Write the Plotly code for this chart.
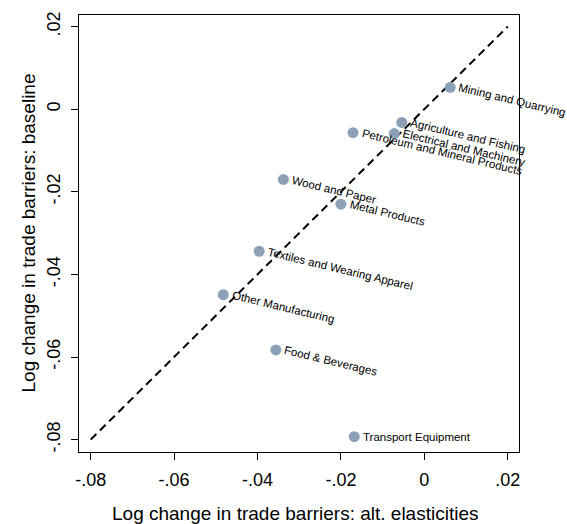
import plotly.graph_objects as go

# Sector-level log changes in trade barriers under two elasticity settings
sectors = [
    "Mining and Quarrying",
    "Agriculture and Fishing",
    "Electrical and Machinery",
    "Petroleum and Mineral Products",
    "Wood and Paper",
    "Metal Products",
    "Textiles and Wearing Apparel",
    "Other Manufacturing",
    "Food & Beverages",
    "Transport Equipment",
]
alt_elasticities = [0.0062, -0.0054, -0.0072, -0.0171, -0.0338, -0.0200, -0.0396, -0.0482, -0.0356, -0.0168]
baseline = [0.0053, -0.0032, -0.0059, -0.0057, -0.0170, -0.0230, -0.0344, -0.0449, -0.0583, -0.0793]
# labels drawn flat instead of slanted
flat_labels = ["Transport Equipment"]

# 45-degree reference line
diag = [-0.08, 0.02]

tick_vals = [-0.08, -0.06, -0.04, -0.02, 0.0, 0.02]
tick_text = ["-.08", "-.06", "-.04", "-.02", "0", ".02"]

FONT = "Liberation Sans, Arial, sans-serif"
MARKER = "rgb(140,160,182)"

fig = go.Figure()
fig.add_trace(go.Scatter(
    x=diag, y=diag, mode="lines",
    line=dict(color="black", width=2, dash="8px,5px"),
    hoverinfo="skip", showlegend=False,
))
fig.add_trace(go.Scatter(
    x=alt_elasticities, y=baseline, mode="markers",
    marker=dict(size=11, color=MARKER, line=dict(width=0)),
    text=sectors, hoverinfo="text", showlegend=False, cliponaxis=False,
))

annotations = []
for name, xv, yv in zip(sectors, alt_elasticities, baseline):
    if name in flat_labels:
        annotations.append(dict(
            x=xv, y=yv, xref="x", yref="y", text=name, showarrow=False,
            xanchor="left", yanchor="middle", xshift=7,
            font=dict(family=FONT, size=11.5, color="black"),
        ))
    else:
        annotations.append(dict(
            x=xv, y=yv, xref="x", yref="y", text=name, showarrow=False,
            textangle=13.5, xanchor="left", yanchor="top", xshift=5, yshift=8,
            font=dict(family=FONT, size=11.5, color="black"),
        ))

# axis titles
annotations.append(dict(
    x=0.49, y=0, xref="paper", yref="paper", yshift=-61,
    text="Log change in trade barriers: alt. elasticities", showarrow=False,
    xanchor="center", yanchor="middle",
    font=dict(family=FONT, size=19, color="black"),
))
annotations.append(dict(
    x=0, y=0.5, xref="paper", yref="paper", xshift=-51,
    text="Log change in trade barriers: baseline", showarrow=False,
    textangle=-90, xanchor="center", yanchor="middle",
    font=dict(family=FONT, size=19, color="black"),
))

axis_common = dict(
    showgrid=False, zeroline=False, showline=True, mirror=True,
    linecolor="black", linewidth=1.3,
    ticks="outside", ticklen=7, tickwidth=1.3, tickcolor="black",
    tickvals=tick_vals, ticktext=tick_text,
    tickfont=dict(family=FONT, size=18, color="black"),
)

fig.update_layout(
    width=567, height=524,
    margin=dict(l=79, r=48, t=11, b=72),
    paper_bgcolor="white", plot_bgcolor="white",
    xaxis=dict(range=[-0.0828, 0.0227], ticklabelstandoff=4, **axis_common),
    yaxis=dict(range=[-0.0830, 0.0228], tickangle=-90, ticklabelstandoff=4, **axis_common),
    annotations=annotations,
    font=dict(family=FONT),
)

fig.write_html("out.html")
